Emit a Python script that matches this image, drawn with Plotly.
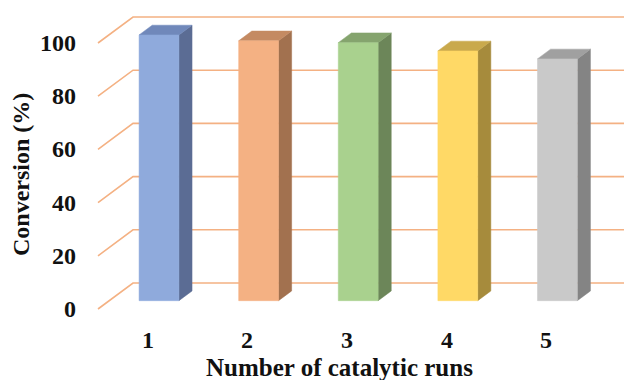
import plotly.graph_objects as go

# ---- data ----
categories = ["1", "2", "3", "4", "5"]
conversion = [99.9, 97.7, 97.0, 93.9, 90.9]
y_ticks = [0, 20, 40, 60, 80, 100]
front_colors = ["#8FAADC", "#F4B183", "#A9D18E", "#FFD966", "#C9C9C9"]
side_colors = ["#5B6C94", "#A2714F", "#6C8659", "#A68B3C", "#848484"]
top_colors = ["#7088BA", "#C48A62", "#85A46E", "#C9A94C", "#A0A0A0"]
x_title = "Number of catalytic runs"
y_title = "Conversion (%)"

# ---- oblique 3D projection settings (in axis units) ----
DX, DY = 0.3514, 9.77       # full depth offset of the floor / walls
FA, FB = 0.32, 0.695        # bar front / back depth fractions
HALF_W = 0.2                # half bar width (category units)
grid_color = "#F4B183"
font_family = "Liberation Serif, Times New Roman, serif"

fig = go.Figure()

# gridlines: side wall diagonal + back wall horizontal
for v in y_ticks:
    fig.add_trace(go.Scatter(
        x=[0.5, 0.5 + DX, 5.5 + DX + 1],
        y=[v, v + DY, v + DY],
        mode="lines", line=dict(color=grid_color, width=1.6),
        hoverinfo="skip", showlegend=False))

# bars
for i, (cat, val) in enumerate(zip(categories, conversion)):
    c = i + 1
    xl = c - HALF_W + FA * DX
    xr = c + HALF_W + FA * DX
    yb = FA * DY
    yt = val + FA * DY
    ddx = (FB - FA) * DX
    ddy = (FB - FA) * DY
    # side face
    fig.add_trace(go.Scatter(
        x=[xr, xr + ddx, xr + ddx, xr, xr],
        y=[yb, yb + ddy, yt + ddy, yt, yb],
        fill="toself", fillcolor=side_colors[i], mode="lines",
        line=dict(color=side_colors[i], width=0.5),
        hoverinfo="skip", showlegend=False))
    # top face
    fig.add_trace(go.Scatter(
        x=[xl, xr, xr + ddx, xl + ddx, xl],
        y=[yt, yt, yt + ddy, yt + ddy, yt],
        fill="toself", fillcolor=top_colors[i], mode="lines",
        line=dict(color=top_colors[i], width=0.5),
        hoverinfo="skip", showlegend=False))
    # front face
    fig.add_trace(go.Scatter(
        x=[xl, xr, xr, xl, xl],
        y=[yb, yb, yt, yt, yb],
        fill="toself", fillcolor=front_colors[i], mode="lines",
        line=dict(color=front_colors[i], width=0.5),
        name=cat, hovertemplate="Run " + cat + ": %{text}%<extra></extra>",
        text=[val] * 5, showlegend=False))

annotations = []
for v in y_ticks:
    annotations.append(dict(
        x=0.5, y=v, xref="x", yref="y", text="<b>" + str(v) + "</b>", showarrow=False,
        xanchor="right", yanchor="middle", xshift=-20,
        font=dict(family=font_family, size=24, color="#111111")))
for i, cat in enumerate(categories):
    annotations.append(dict(
        x=i + 1, y=0, xref="x", yref="y", text="<b>" + cat + "</b>", showarrow=False,
        xanchor="center", yanchor="middle", yshift=-31,
        font=dict(family=font_family, size=24, color="#111111")))
annotations.append(dict(
    x=339.5 / 624, y=1 - 367 / 380, xref="paper", yref="paper", text="<b>" + x_title + "</b>",
    showarrow=False, xanchor="center", yanchor="middle",
    font=dict(family=font_family, size=25, color="#111111")))
annotations.append(dict(
    x=21 / 624, y=1 - 175 / 380, xref="paper", yref="paper", text="<b>" + y_title + "</b>",
    showarrow=False, xanchor="center", yanchor="middle", textangle=-90,
    font=dict(family=font_family, size=24, color="#111111")))

# axis ranges so that the front plane spans px 98..596 (x) and 309..43 (y 0..100)
px_per_x = 99.6
px_per_y = 2.66
x0 = 0.5 - 98 / px_per_x
x1 = 0.5 + (624 - 98) / px_per_x
y0 = -(380 - 309) / px_per_y
y1 = 309 / px_per_y

fig.update_layout(
    width=624, height=380,
    margin=dict(l=0, r=0, t=0, b=0),
    paper_bgcolor="white", plot_bgcolor="white",
    xaxis=dict(range=[x0, x1], visible=False, fixedrange=True),
    yaxis=dict(range=[y0, y1], visible=False, fixedrange=True),
    annotations=annotations,
    showlegend=False,
)

fig.write_html(
    "out.html",
    config={"displayModeBar": False},
    post_script="document.body.style.margin='0px';document.body.style.overflow='hidden';",
)
